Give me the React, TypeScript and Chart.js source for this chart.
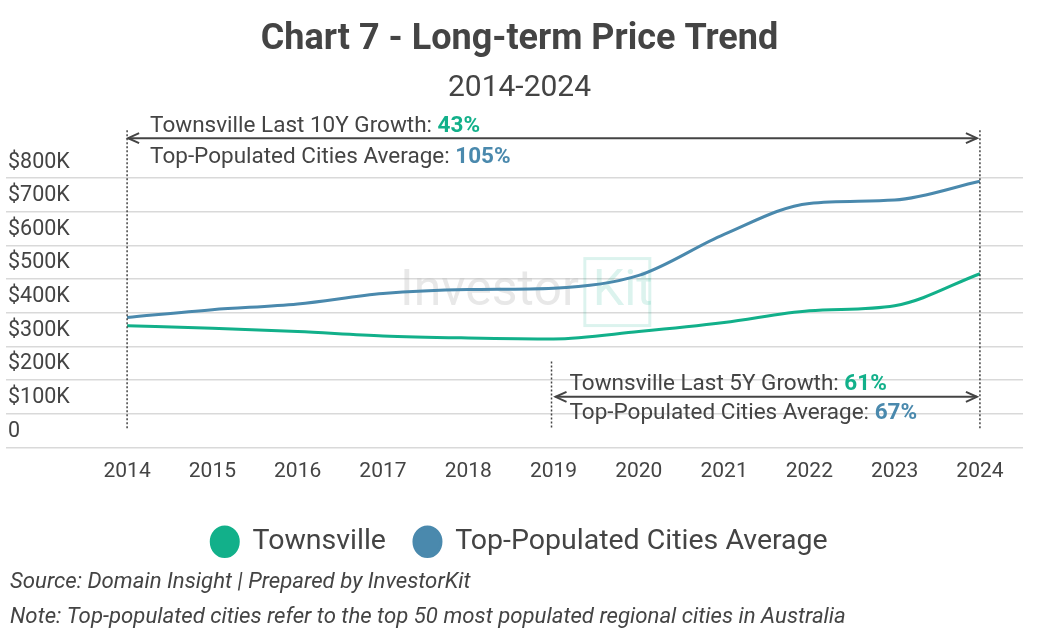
import React, { useEffect, useRef } from "react";
import { Chart, registerables } from "chart.js";

Chart.register(...registerables);

const years = [2014, 2015, 2016, 2017, 2018, 2019, 2020, 2021, 2022, 2023, 2024];
const townsville = [361000, 354000, 344000, 331000, 325000, 322000, 344000, 371000, 406000, 421000, 516000];
const topCities = [386000, 409000, 426000, 457000, 469000, 473000, 511000, 633000, 725000, 735000, 791000];
const yTicks = [0, 100000, 200000, 300000, 400000, 500000, 600000, 700000, 800000];

const GREEN = "#12b08a";
const BLUE = "#4a89ad";
const TEXT = "#444444";
const FONT = "Roboto, 'Noto Sans', sans-serif";

const centerShiftPlugin = {
  id: "centerShift",
  afterLayout(chart: any) {
    const shift = 7;
    for (const b of chart.boxes) {
      if (b === chart.legend || (b.options && b.options.text !== undefined)) {
        b.left += shift;
        b.right += shift;
      }
    }
  },
};

const annotationPlugin = {
  id: "annots",
  beforeDatasetsDraw(chart: any) {
    const { ctx } = chart;
    const xs = chart.scales.x;
    const ys = chart.scales.y;
    // watermark
    ctx.save();
    const cx = xs.getPixelForValue(2019.25);
    const cy = ys.getPixelForValue(460000);
    ctx.font = `50px ${FONT}`;
    ctx.textBaseline = "middle";
    ctx.textAlign = "right";
    ctx.fillStyle = "rgba(190,190,190,0.35)";
    ctx.fillText("Investor", cx + 4, cy);
    ctx.strokeStyle = "rgba(18,176,138,0.15)";
    ctx.lineWidth = 3;
    ctx.strokeRect(cx + 10, cy - 34, 65, 67);
    ctx.textAlign = "left";
    ctx.fillStyle = "rgba(18,176,138,0.15)";
    ctx.fillText("Kit", cx + 18, cy);
    ctx.restore();
  },
  afterDraw(chart: any) {
    const { ctx, chartArea } = chart;
    const xs = chart.scales.x;
    const ys = chart.scales.y;
    const x14 = xs.getPixelForValue(2014);
    const x19 = xs.getPixelForValue(2019);
    const x24 = xs.getPixelForValue(2024);
    const top = chartArea.top;
    const bottomDot = ys.getPixelForValue(0) - 19;

    ctx.save();
    // dotted vertical lines
    ctx.strokeStyle = TEXT;
    ctx.lineWidth = 1.5;
    ctx.setLineDash([2, 2]);
    const vline = (x: number, y1: number, y2: number) => {
      ctx.beginPath();
      ctx.moveTo(x, y1);
      ctx.lineTo(x, y2);
      ctx.stroke();
    };
    vline(x14, top - 48, bottomDot);
    vline(x24, top - 48, bottomDot);
    vline(x19 - 2, ys.getPixelForValue(255000), bottomDot);
    ctx.setLineDash([]);

    // arrows
    const arrow = (x1: number, x2: number, y: number) => {
      ctx.lineWidth = 2;
      ctx.beginPath();
      ctx.moveTo(x1, y);
      ctx.lineTo(x2, y);
      ctx.stroke();
      ctx.beginPath();
      ctx.moveTo(x1 + 11, y - 5);
      ctx.lineTo(x1, y);
      ctx.lineTo(x1 + 11, y + 5);
      ctx.moveTo(x2 - 11, y - 5);
      ctx.lineTo(x2, y);
      ctx.lineTo(x2 - 11, y + 5);
      ctx.stroke();
    };
    arrow(x14 + 1, x24 - 3, top - 40);
    arrow(x19 + 2, x24 - 3, ys.getPixelForValue(150000));

    // texts
    const txt = (x: number, y: number, label: string, pct: string, color: string) => {
      ctx.textBaseline = "middle";
      ctx.textAlign = "left";
      ctx.font = `22.5px ${FONT}`;
      ctx.fillStyle = TEXT;
      ctx.fillText(label, x, y);
      const w = ctx.measureText(label).width;
      ctx.font = `bold 22.5px ${FONT}`;
      ctx.fillStyle = color;
      ctx.fillText(pct, x + w, y);
    };
    txt(x14 + 23, top - 52, "Townsville Last 10Y Growth: ", "43%", GREEN);
    txt(x14 + 23, top - 21, "Top-Populated Cities Average: ", "105%", BLUE);
    const y5 = ys.getPixelForValue(150000);
    txt(x19 + 16, y5 - 12, "Townsville Last 5Y Growth: ", "61%", GREEN);
    txt(x19 + 16, y5 + 17, "Top-Populated Cities Average: ", "67%", BLUE);

    // footer
    ctx.font = `italic 22.2px ${FONT}`;
    ctx.fillStyle = TEXT;
    ctx.fillText("Source: Domain Insight | Prepared by InvestorKit", 10, 582);
    ctx.fillText("Note: Top-populated cities refer to the top 50 most populated regional cities in Australia", 10, 617);
    ctx.restore();
  },
};

export default function App() {
  const ref = useRef<HTMLCanvasElement | null>(null);
  useEffect(() => {
    if (!ref.current) return;
    const chart = new Chart(ref.current, {
      type: "line",
      data: {
        datasets: [
          {
            label: "Townsville",
            data: years.map((y, i) => ({ x: y, y: townsville[i] })),
            borderColor: GREEN,
            backgroundColor: GREEN,
            borderWidth: 3,
            pointRadius: 0,
            cubicInterpolationMode: "monotone",
          },
          {
            label: "Top-Populated Cities Average",
            data: years.map((y, i) => ({ x: y, y: topCities[i] })),
            borderColor: BLUE,
            backgroundColor: BLUE,
            borderWidth: 3,
            pointRadius: 0,
            cubicInterpolationMode: "monotone",
          },
        ],
      },
      options: {
        animation: false,
        responsive: false,
        maintainAspectRatio: false,
        layout: { padding: { left: 2, right: 17, top: 0, bottom: 74 } },
        scales: {
          x: {
            type: "linear",
            min: 2012.58,
            max: 2024.505,
            afterBuildTicks: (s: any) => {
              s.ticks = years.map((v) => ({ value: v }));
            },
            afterFit: (s: any) => {
              s.height += 11;
            },
            grid: { display: false },
            border: { display: false },
            ticks: {
              autoSkip: false,
              maxRotation: 0,
              padding: 4,
              color: TEXT,
              font: { family: FONT, size: 21 },
              callback: (v: any) => String(v),
            },
          },
          y: {
            min: 0,
            max: 800000,
            afterBuildTicks: (s: any) => {
              s.ticks = yTicks.map((v) => ({ value: v }));
            },
            grid: { color: "#d9d9d9", lineWidth: 1.5, drawTicks: false },
            border: { display: false },
            ticks: {
              mirror: true,
              padding: 2,
              labelOffset: -16,
              color: TEXT,
              font: { family: FONT, size: 21.5 },
              callback: (v: any) => (v === 0 ? "0" : "$" + v / 1000 + "K"),
            },
          },
        },
        plugins: {
          title: {
            display: true,
            text: "Chart 7 - Long-term Price Trend",
            color: TEXT,
            font: { family: FONT, size: 36, weight: "bold" },
            padding: { top: 18, bottom: 9 },
          },
          subtitle: {
            display: true,
            text: "2014-2024",
            color: TEXT,
            font: { family: FONT, size: 30, weight: "normal" },
            padding: { top: 0, bottom: 72 },
          },
          legend: {
            position: "bottom",
            labels: {
              usePointStyle: true,
              pointStyle: "circle",
              pointStyleWidth: 27,
              boxHeight: 21,
              padding: 28,
              color: TEXT,
              font: { family: FONT, size: 28.5 },
            },
          },
          tooltip: { enabled: false },
        },
      },
      plugins: [centerShiftPlugin, annotationPlugin],
    } as any);
    return () => chart.destroy();
  }, []);
  return (
    <div style={{ position: "fixed", left: 0, top: 0, width: 1040, height: 640, background: "#fff" }}>
      <canvas ref={ref} width={1040} height={640} style={{ width: 1040, height: 640 }} />
    </div>
  );
}
